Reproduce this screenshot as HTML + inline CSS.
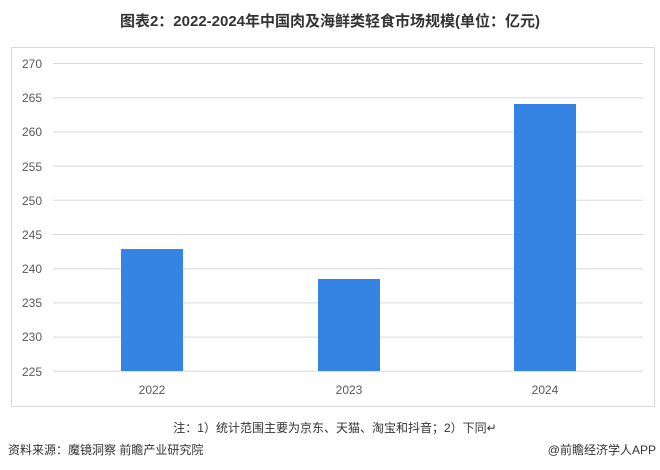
<!DOCTYPE html>
<html><head><meta charset="utf-8"><style>
body{margin:0;width:660px;height:470px;background:#fff;overflow:hidden;font-family:"Liberation Sans","Noto Sans CJK SC",sans-serif;}
</style></head><body>
<svg width="660" height="470" xmlns="http://www.w3.org/2000/svg" style="position:absolute;left:0;top:0">
<text x="330" y="26" text-anchor="middle" font-size="15" font-weight="bold" fill="#333" font-family="Liberation Sans, Noto Sans CJK SC, sans-serif">图表2：2022-2024年中国肉及海鲜类轻食市场规模(单位：亿元)</text>
<rect x="11.5" y="47.5" width="643" height="359" fill="none" stroke="#d9d9d9"/>
<g stroke="#d9d9d9" stroke-width="1">
<line x1="53" x2="643" y1="63.5" y2="63.5"/>
<line x1="53" x2="643" y1="97.7" y2="97.7"/>
<line x1="53" x2="643" y1="131.9" y2="131.9"/>
<line x1="53" x2="643" y1="166.1" y2="166.1"/>
<line x1="53" x2="643" y1="200.3" y2="200.3"/>
<line x1="53" x2="643" y1="234.5" y2="234.5"/>
<line x1="53" x2="643" y1="268.7" y2="268.7"/>
<line x1="53" x2="643" y1="302.9" y2="302.9"/>
<line x1="53" x2="643" y1="337.1" y2="337.1"/>
<line x1="53" x2="643" y1="371.3" y2="371.3"/>
</g>
<g font-size="12" fill="#595959" text-anchor="end">
<text x="42" y="68">270</text><text x="42" y="102">265</text><text x="42" y="136">260</text><text x="42" y="171">255</text><text x="42" y="205">250</text><text x="42" y="239">245</text><text x="42" y="273">240</text><text x="42" y="307">235</text><text x="42" y="341">230</text><text x="42" y="376">225</text>
</g>
<g fill="#3584e4">
<rect x="121" y="249" width="62" height="122"/>
<rect x="318" y="279" width="62" height="92"/>
<rect x="514" y="104" width="62" height="267"/>
</g>
<g font-size="12" fill="#595959" text-anchor="middle">
<text x="152" y="394">2022</text><text x="349" y="394">2023</text><text x="545" y="394">2024</text>
</g>
<text x="335" y="432" text-anchor="middle" font-size="12" fill="#333" font-family="Liberation Sans, Noto Sans CJK SC, sans-serif">注：1）统计范围主要为京东、天猫、淘宝和抖音；2）下同↵</text>
<text x="8" y="454" font-size="12" fill="#333" font-family="Liberation Sans, Noto Sans CJK SC, sans-serif">资料来源：魔镜洞察 前瞻产业研究院</text>
<text x="656" y="454" text-anchor="end" font-size="12" fill="#333" font-family="Liberation Sans, Noto Sans CJK SC, sans-serif">@前瞻经济学人APP</text>
</svg>
</body></html>
